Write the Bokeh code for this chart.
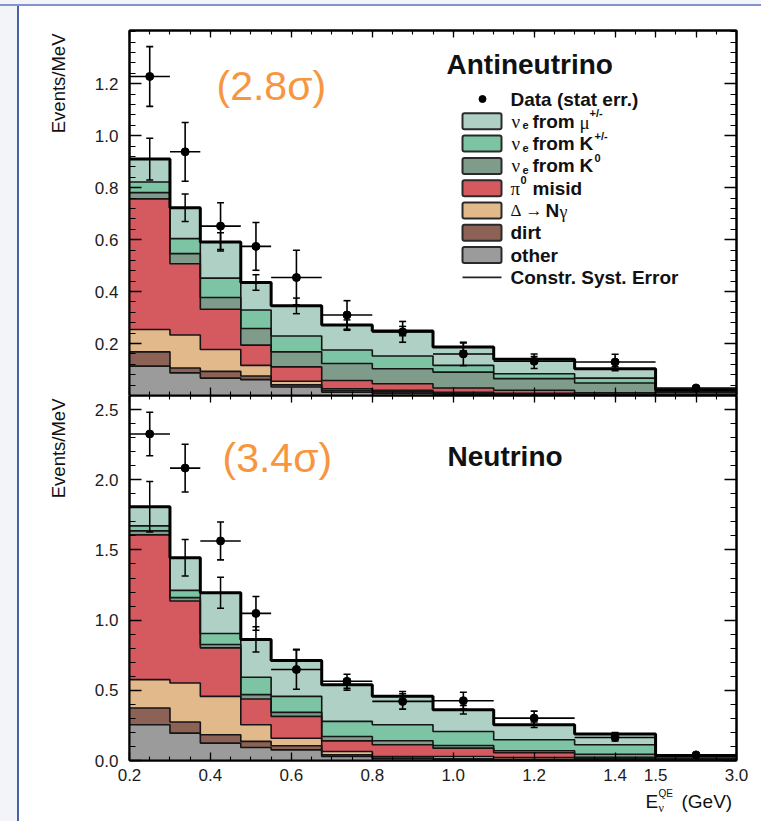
import numpy as np
from bokeh.plotting import figure
from bokeh.layouts import column, row
from bokeh.models import FixedTicker, LinearAxis, Label, BoxAnnotation, Range1d
from bokeh.embed import file_html
from bokeh.resources import INLINE

# ---------------- data ----------------
bin_edges = [0.2, 0.3, 0.375, 0.475, 0.55, 0.675, 0.8, 0.95, 1.1, 1.3, 1.5, 3.0]

x_tick_values = [0.2, 0.4, 0.6, 0.8, 1.0, 1.2, 1.4, 1.5, 3.0]
x_tick_labels = ["0.2", "0.4", "0.6", "0.8", "1.0", "1.2", "1.4", "1.5", "3.0"]
x_extra_tick = [2.25]

series_names = ["other", "dirt", "Δ → Nγ", "π0 misid", "νe from K0", "νe from K+/-", "νe from μ+/-"]
series_colors = ["#9b9b9b", "#8b6255", "#e2b98b", "#d45a60", "#7e9c89", "#7dc4a4", "#afd0c4"]

# Antineutrino (events/MeV), per component, bottom to top of the stack
anti_other = [0.113, 0.087, 0.067, 0.061, 0.033, 0.013, 0.008, 0.005, 0.003, 0.002, 0.001]
anti_dirt  = [0.055, 0.019, 0.026, 0.014, 0.008, 0.007, 0.006, 0.003, 0.002, 0.001, 0.001]
anti_delta = [0.086, 0.127, 0.084, 0.041, 0.014, 0.006, 0.006, 0.004, 0.003, 0.002, 0.001]
anti_pi0   = [0.503, 0.274, 0.155, 0.078, 0.055, 0.032, 0.025, 0.017, 0.012, 0.005, 0.002]
anti_k0    = [0.024, 0.039, 0.045, 0.064, 0.058, 0.065, 0.058, 0.061, 0.045, 0.038, 0.007]
anti_kpm   = [0.041, 0.058, 0.075, 0.071, 0.061, 0.052, 0.049, 0.026, 0.019, 0.019, 0.004]
anti_mu    = [0.088, 0.119, 0.139, 0.106, 0.116, 0.096, 0.096, 0.071, 0.056, 0.036, 0.006]
anti_syst  = [0.080, 0.053, 0.035, 0.030, 0.030, 0.020, 0.018, 0.015, 0.010, 0.008, 0.003]
anti_data  = [1.228, 0.938, 0.652, 0.574, 0.454, 0.310, 0.245, 0.160, 0.132, 0.129, 0.029]
anti_derr  = [0.115, 0.113, 0.090, 0.092, 0.105, 0.055, 0.040, 0.045, 0.028, 0.030, 0.005]

# Neutrino (events/MeV)
nu_other = [0.255, 0.195, 0.124, 0.093, 0.076, 0.029, 0.012, 0.008, 0.005, 0.003, 0.001]
nu_dirt  = [0.119, 0.079, 0.059, 0.043, 0.029, 0.011, 0.006, 0.005, 0.004, 0.002, 0.001]
nu_delta = [0.202, 0.278, 0.274, 0.119, 0.054, 0.024, 0.011, 0.016, 0.012, 0.007, 0.002]
nu_pi0   = [1.031, 0.584, 0.345, 0.183, 0.155, 0.076, 0.083, 0.059, 0.034, 0.010, 0.004]
nu_k0    = [0.029, 0.024, 0.024, 0.031, 0.029, 0.031, 0.029, 0.019, 0.014, 0.023, 0.006]
nu_kpm   = [0.035, 0.052, 0.079, 0.124, 0.114, 0.108, 0.114, 0.100, 0.079, 0.067, 0.011]
nu_mu    = [0.136, 0.233, 0.290, 0.269, 0.255, 0.261, 0.202, 0.155, 0.107, 0.076, 0.011]
nu_syst  = [0.180, 0.130, 0.110, 0.090, 0.080, 0.040, 0.035, 0.030, 0.020, 0.012, 0.003]
nu_data  = [2.326, 2.083, 1.564, 1.048, 0.648, 0.564, 0.421, 0.426, 0.302, 0.164, 0.040]
nu_derr  = [0.155, 0.170, 0.135, 0.120, 0.140, 0.050, 0.055, 0.060, 0.050, 0.025, 0.006]

top_yticks = [0.2, 0.4, 0.6, 0.8, 1.0, 1.2]
bot_yticks = [0.0, 0.5, 1.0, 1.5, 2.0, 2.5]

# ---------------- geometry ----------------
FONT = "Liberation Sans"
SERIF = "Liberation Serif"
W, H = 761, 821
LEFT_STRIP = 80
FL, FT, FW, FH = 129, 30, 607, 365   # frame left/top/width/height in window px
BOT_BORDER = 26
YT_MAX, YB_MAX = 1.405, 2.6
ORANGE = "#f7963f"
SLIDE_BG = "#f2f4f9"
SLIDE_LEFT = "#4a61aa"
SLIDE_TOP = "#8493cc"


def disp(e):
    """Axis is linear up to 1.5 GeV; the 1.5-3.0 GeV bin is compressed."""
    return e if e <= 1.5 else 1.5 + (e - 1.5) * 0.2 / 1.5


XMIN, XMAX = disp(0.2), disp(3.0)
x_range = Range1d(XMIN, XMAX)


def px_x(px):
    return XMIN + (px - FL) * (XMAX - XMIN) / FW


def hidden_axis(ticks, minor, tick_in, minor_in):
    return LinearAxis(ticker=FixedTicker(ticks=ticks, minor_ticks=minor),
                      major_label_text_font_size="0px", major_label_standoff=0,
                      major_label_text_color=None, major_label_text_alpha=0,
                      major_tick_in=tick_in, major_tick_out=0,
                      minor_tick_in=minor_in, minor_tick_out=0,
                      axis_line_width=2, major_tick_line_width=1.3, minor_tick_line_width=1.1)


def make_fig(ymax, yticks, yminor, bottom_border, top_border, show_x_labels):
    p = figure(frame_width=FW, frame_height=FH, x_range=x_range, y_range=Range1d(0, ymax),
               min_border_left=FL - LEFT_STRIP, min_border_right=W - FL - FW,
               min_border_top=top_border, min_border_bottom=bottom_border,
               x_axis_location=None,
               output_backend="svg", toolbar_location=None,
               border_fill_color="white", background_fill_color="white",
               outline_line_color="black", outline_line_width=2)
    p.xgrid.visible = False
    p.ygrid.visible = False
    xt = [disp(v) for v in x_tick_values + x_extra_tick]
    xminor = [round(0.2 + 0.05 * i, 4) for i in range(0, 31)]

    if show_x_labels:
        overrides = {disp(v): lab for v, lab in zip(x_tick_values, x_tick_labels)}
        overrides[disp(x_extra_tick[0])] = ""
        xa = LinearAxis(ticker=FixedTicker(ticks=xt, minor_ticks=xminor),
                        major_label_overrides=overrides,
                        major_tick_in=8, major_tick_out=0, minor_tick_in=4, minor_tick_out=0,
                        axis_line_width=2, major_tick_line_width=1.3, minor_tick_line_width=1.1,
                        major_label_text_font=FONT, major_label_text_font_size="17px",
                        major_label_text_color="#1c1c1c", major_label_standoff=8)
    else:
        xa = hidden_axis(xt, xminor, 8, 4)
    p.add_layout(xa, "below")

    ya = p.yaxis[0]
    ya.ticker = FixedTicker(ticks=yticks, minor_ticks=yminor)
    ya.major_tick_in, ya.major_tick_out = 12, 0
    ya.minor_tick_in, ya.minor_tick_out = 6, 0
    ya.axis_line_width = 2
    ya.major_tick_line_width = 1.3
    ya.minor_tick_line_width = 1.1
    ya.major_label_text_font = FONT
    ya.major_label_text_font_size = "17px"
    ya.major_label_text_color = "#1c1c1c"
    ya.major_label_standoff = 11
    ya.major_label_overrides = {t: f"{t:.1f}" for t in yticks}

    p.add_layout(hidden_axis(yticks, yminor, 12, 6), "right")
    p.add_layout(hidden_axis(xt, xminor, 7, 4), "above")
    return p


def draw_stack(p, comps, syst, data, derr):
    L = [disp(e) for e in bin_edges[:-1]]
    R = [disp(e) for e in bin_edges[1:]]
    xs = [disp(e) for e in bin_edges]
    cx = [(a + b) / 2 for a, b in zip(L, R)]
    cum = np.zeros(len(L))
    tops = []
    for vals, color in zip(comps, series_colors):
        bottom = cum.copy()
        cum = cum + np.array(vals)
        p.varea_step(x=xs, y1=list(bottom) + [bottom[-1]], y2=list(cum) + [cum[-1]],
                     step_mode="after", fill_color=color)
        tops.append(cum.copy())
    for t in tops[:-1]:
        p.step(x=xs, y=list(t) + [t[-1]], mode="after", line_color="#151515", line_width=1.6)
    total = tops[-1]
    p.step(x=xs, y=list(total) + [total[-1]], mode="after", line_color="black", line_width=3)
    s = np.array(syst)
    p.segment(cx, total - s, cx, total + s, line_color="black", line_width=1.5)
    p.scatter(cx, total + s, marker="dash", size=7, line_color="black", line_width=1.5)
    p.scatter(cx, total - s, marker="dash", size=7, line_color="black", line_width=1.5)
    d = np.array(data)
    e = np.array(derr)
    p.segment(L, d, R, d, line_color="black", line_width=1.6)
    p.segment(cx, d - e, cx, d + e, line_color="black", line_width=1.6)
    p.scatter(cx, d + e, marker="dash", size=7, line_color="black", line_width=1.6)
    p.scatter(cx, d - e, marker="dash", size=7, line_color="black", line_width=1.6)
    p.scatter(cx, d, marker="circle", size=8, fill_color="black", line_color="black")


def add_text(p, xconv, yconv, px, py, text, size, bold=False, font=FONT, color="#111111",
             align="left", angle=0.0, baseline="middle"):
    p.add_layout(Label(x=xconv(px), y=yconv(py), text=text, text_font=font,
                       text_font_size=f"{size}px", text_font_style="bold" if bold else "normal",
                       text_color=color, text_align=align, text_baseline=baseline, angle=angle))


def ident(v):
    return v


# ---------------- top: antineutrino ----------------
top_minor = [round(0.04 * i, 3) for i in range(0, 36)]
top = make_fig(YT_MAX, top_yticks, top_minor, bottom_border=0, top_border=FT, show_x_labels=False)
draw_stack(top, [anti_other, anti_dirt, anti_delta, anti_pi0, anti_k0, anti_kpm, anti_mu],
           anti_syst, anti_data, anti_derr)


def ytop(py):
    return (FT + FH - py) * YT_MAX / FH


add_text(top, px_x, ytop, 216, 85, "(2.8σ)", 41, color=ORANGE)
add_text(top, px_x, ytop, 446, 64, "Antineutrino", 28, bold=True)

# legend (manual, with sub/superscripts)
row0, dy = 98.5, 22.3
SW_L, SW_R = 462, 501
TX = 510
LF = 19
rows_y = [row0 + i * dy for i in range(9)]
top.add_layout(BoxAnnotation(left=px_x(478.5), right=px_x(485.5), top=ytop(rows_y[0] - 3.5),
                             bottom=ytop(rows_y[0] + 3.5), fill_color="black", fill_alpha=1,
                             line_color="black", line_alpha=1, border_radius=4))
add_text(top, px_x, ytop, TX, rows_y[0], "Data (stat err.)", LF, bold=True)
legend_order = [6, 5, 4, 3, 2, 1, 0]
for i, si in enumerate(legend_order):
    ry = rows_y[i + 1]
    top.add_layout(BoxAnnotation(left=px_x(SW_L), right=px_x(SW_R), top=ytop(ry - 8),
                                 bottom=ytop(ry + 8), fill_color=series_colors[si], fill_alpha=1,
                                 line_color="#2a2a2a", line_alpha=1, line_width=2,
                                 border_radius=2))
for k in (1, 2, 3):
    r = rows_y[k]
    add_text(top, px_x, ytop, 511, r, "ν", 19, font=SERIF)
    add_text(top, px_x, ytop, 522, r + 4, "e", 11, bold=True)
    add_text(top, px_x, ytop, 532, r, "from", LF, bold=True)
r = rows_y[1]
add_text(top, px_x, ytop, 579, r + 1, "μ", 19, font=SERIF)
add_text(top, px_x, ytop, 589, r - 8, "+/-", 11, bold=True)
r = rows_y[2]
add_text(top, px_x, ytop, 579, r, "K", LF, bold=True)
add_text(top, px_x, ytop, 594, r - 8, "+/-", 11, bold=True)
r = rows_y[3]
add_text(top, px_x, ytop, 579, r, "K", LF, bold=True)
add_text(top, px_x, ytop, 594, r - 8, "0", 11, bold=True)
r = rows_y[4]
add_text(top, px_x, ytop, 510, r, "π", 19, font=SERIF)
add_text(top, px_x, ytop, 520, r - 8, "0", 11, bold=True)
add_text(top, px_x, ytop, 532, r, "misid", LF, bold=True)
r = rows_y[5]
add_text(top, px_x, ytop, 510, r, "Δ", 17, font=SERIF)
add_text(top, px_x, ytop, 525, r, "→", 17)
add_text(top, px_x, ytop, 545, r, "N", LF, bold=True)
add_text(top, px_x, ytop, 559, r + 1, "γ", 18, font=SERIF)
add_text(top, px_x, ytop, TX, rows_y[6], "dirt", LF, bold=True)
add_text(top, px_x, ytop, TX, rows_y[7], "other", LF, bold=True)
ry = rows_y[8]
top.add_layout(BoxAnnotation(left=px_x(SW_L), right=px_x(SW_R), top=ytop(ry - 0.8),
                             bottom=ytop(ry + 0.8), fill_color="#222222", fill_alpha=1,
                             line_color=None))
add_text(top, px_x, ytop, TX, ry, "Constr. Syst. Error", LF, bold=True)

# ---------------- bottom: neutrino ----------------
bot_minor = [round(0.1 * i, 2) for i in range(0, 27)]
bot = make_fig(YB_MAX, bot_yticks, bot_minor, bottom_border=BOT_BORDER, top_border=0,
               show_x_labels=True)
draw_stack(bot, [nu_other, nu_dirt, nu_delta, nu_pi0, nu_k0, nu_kpm, nu_mu],
           nu_syst, nu_data, nu_derr)

B0 = FT + FH


def ybot(py):
    return (B0 + FH - py) * YB_MAX / FH


add_text(bot, px_x, ybot, 222, 457, "(3.4σ)", 41, color=ORANGE)
add_text(bot, px_x, ybot, 447, 456, "Neutrino", 28, bold=True)

# ---------------- strip left of the panels: y-axis titles + slide frame ----------------
STRIP_TOP = FT + 2 * FH + BOT_BORDER
lstrip = figure(width=LEFT_STRIP, height=STRIP_TOP, x_range=Range1d(0, LEFT_STRIP),
                y_range=Range1d(STRIP_TOP, 0),
                min_border=0, x_axis_location=None, y_axis_location=None,
                outline_line_color=None, border_fill_color=None, background_fill_color=None,
                output_backend="svg", toolbar_location=None)
lstrip.grid.visible = False
add_text(lstrip, ident, ident, 58, 33, "Events/MeV", 18.5, align="right", angle=np.pi / 2)
add_text(lstrip, ident, ident, 58, 398, "Events/MeV", 18.5, align="right", angle=np.pi / 2)

# ---------------- strip under the panels: x-axis title ----------------
xstrip = figure(width=W, height=H - STRIP_TOP,
                x_range=Range1d(0, W), y_range=Range1d(H, STRIP_TOP),
                min_border=0, x_axis_location=None, y_axis_location=None,
                outline_line_color=None, border_fill_color=None,
                background_fill_color=None, output_backend="svg", toolbar_location=None)
xstrip.grid.visible = False
add_text(xstrip, ident, ident, 645, 801, "E", 19)
add_text(xstrip, ident, ident, 658, 807, "ν", 12, font=SERIF)
add_text(xstrip, ident, ident, 658, 793, "QE", 10)
add_text(xstrip, ident, ident, 681, 801, "(GeV)", 19)

left_bg = (f"linear-gradient(to right, {SLIDE_BG} 0px, {SLIDE_BG} 17px, {SLIDE_LEFT} 17px, "
           f"{SLIDE_LEFT} 19px, #ffffff 19px)")
lstrip.styles = {"background": f"linear-gradient(to bottom, {SLIDE_BG} 0px, {SLIDE_BG} 4px, "
                               f"{SLIDE_TOP} 4px, {SLIDE_TOP} 6px, rgba(255,255,255,0) 6px), "
                               + left_bg}
xstrip.styles = {"background": left_bg}
top.border_fill_color = None
top.styles = {"background": f"linear-gradient(to bottom, {SLIDE_BG} 0px, {SLIDE_BG} 4px, "
                            f"{SLIDE_TOP} 4px, {SLIDE_TOP} 6px, #ffffff 6px)"}

layout = column(row(lstrip, column(top, bot, spacing=0), spacing=0), xstrip, spacing=0)
open("out.html", "w").write(file_html(layout, INLINE))
